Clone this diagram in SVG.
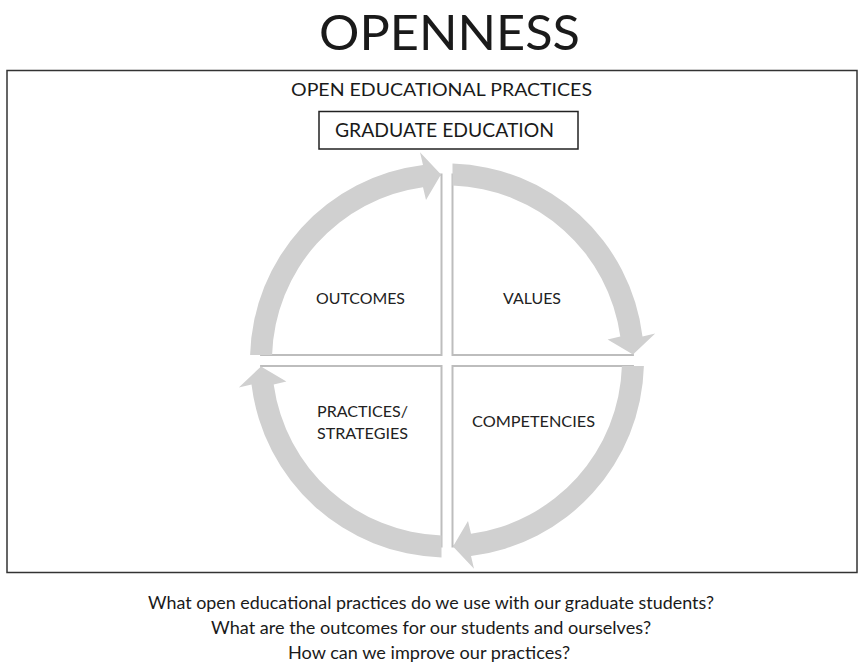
<svg xmlns="http://www.w3.org/2000/svg" width="862" height="664" viewBox="0 0 862 664">
<style>
.t{font-family:Lato,"Open Sans","Liberation Sans",sans-serif;fill:#1a1a1a}
.q{font-family:Lato,"Open Sans","Liberation Sans",sans-serif;fill:#222222;font-size:16px;text-anchor:middle}
.pie{fill:#ffffff;stroke:#bdbdbd;stroke-width:2}
.arr{fill:#d0d0d0}
</style>
<defs>
<path id="pieTL" class="pie" d="M -5.5,-5.5 L -5.5,-185.9 A 186 186 0 0 0 -185.9,-5.5 Z"/>
<path id="arrTL" class="arr" d="M -196.9,-5.5 A 197 197 0 0 1 -24,-195.5 L -27,-208.2 L -6,-186 L -21,-160.6 L -24,-173.3 A 175 175 0 0 0 -174.9,-5.5 Z"/>
</defs>
<rect width="862" height="664" fill="#ffffff"/>
<g id="title">
<text class="t" x="449.5" y="50" font-size="49" text-anchor="middle" textLength="261" lengthAdjust="spacingAndGlyphs">OPENNESS</text>
</g>
<g id="frame">
<rect x="7" y="70.5" width="850" height="502" fill="none" stroke="#333333" stroke-width="1.5"/>
<text class="t" x="441.5" y="96" font-size="18" text-anchor="middle" textLength="301" lengthAdjust="spacingAndGlyphs">OPEN EDUCATIONAL PRACTICES</text>
</g>
<g id="graduate-education">
<rect x="319" y="111.5" width="259" height="37.5" fill="#ffffff" stroke="#222222" stroke-width="1.5"/>
<text class="t" x="444.5" y="136.5" font-size="19.5" text-anchor="middle" textLength="219" lengthAdjust="spacingAndGlyphs">GRADUATE EDUCATION</text>
</g>
<g id="outcomes">
<use href="#pieTL" transform="translate(447,360.5)"/>
<text class="q" x="360.5" y="304" textLength="89" lengthAdjust="spacingAndGlyphs">OUTCOMES</text>
</g>
<g id="values">
<use href="#pieTL" transform="translate(447,360.5) rotate(90)"/>
<text class="q" x="532" y="304" textLength="58" lengthAdjust="spacingAndGlyphs">VALUES</text>
</g>
<g id="competencies">
<use href="#pieTL" transform="translate(447,360.5) rotate(180)"/>
<text class="q" x="533.5" y="427" textLength="123" lengthAdjust="spacingAndGlyphs">COMPETENCIES</text>
</g>
<g id="practices-strategies">
<use href="#pieTL" transform="translate(447,360.5) rotate(270)"/>
<text class="q" x="362.5" y="417" textLength="91" lengthAdjust="spacingAndGlyphs">PRACTICES/</text>
<text class="q" x="362.5" y="439" textLength="91" lengthAdjust="spacingAndGlyphs">STRATEGIES</text>
</g>
<g id="connectors">
<use href="#arrTL" transform="translate(447,360.5)"/>
<use href="#arrTL" transform="translate(447,360.5) rotate(90)"/>
<use href="#arrTL" transform="translate(447,360.5) rotate(180)"/>
<use href="#arrTL" transform="translate(447,360.5) rotate(270)"/>
</g>
<g id="questions">
<text class="t" x="431" y="609" font-size="16.5" text-anchor="middle" textLength="566" lengthAdjust="spacingAndGlyphs">What open educational practices do we use with our graduate students?</text>
<text class="t" x="431" y="634" font-size="16.5" text-anchor="middle" textLength="440" lengthAdjust="spacingAndGlyphs">What are the outcomes for our students and ourselves?</text>
<text class="t" x="429" y="659" font-size="16.5" text-anchor="middle" textLength="282" lengthAdjust="spacingAndGlyphs">How can we improve our practices?</text>
</g>
</svg>
